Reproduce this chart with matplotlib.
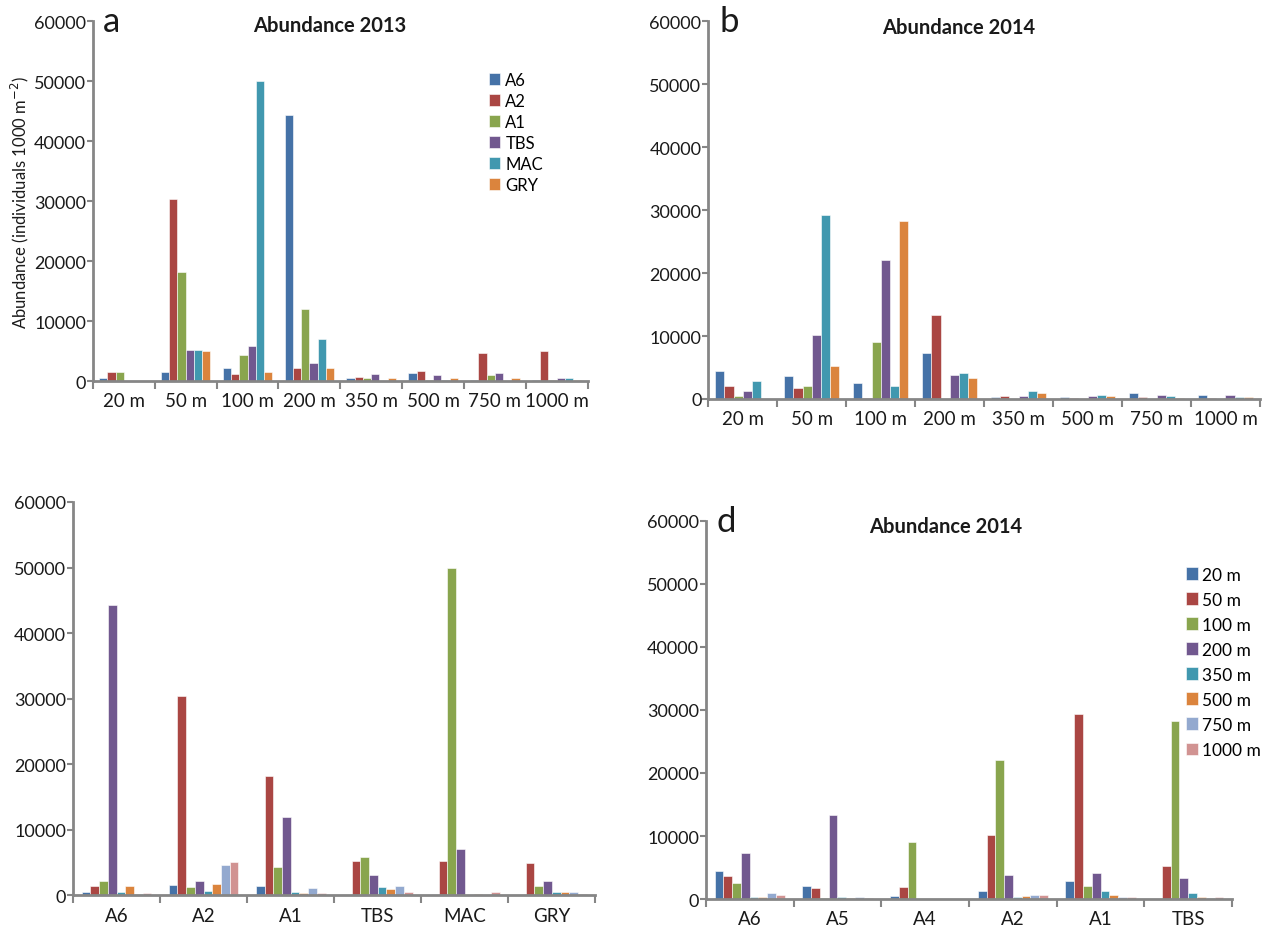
import numpy as np
import matplotlib
matplotlib.use('Agg')
import matplotlib.pyplot as plt

plt.rcParams['font.family'] = ['Lato', 'DejaVu Sans']

# ── Data ──────────────────────────────────────────────────────────────────────
depths = ['20 m', '50 m', '100 m', '200 m', '350 m', '500 m', '750 m', '1000 m']
sites_2013 = ['A6', 'A2', 'A1', 'TBS', 'MAC', 'GRY']
sites_2014 = ['A6', 'A5', 'A4', 'A2', 'A1', 'TBS']

# 2013 abundance per site, one value per depth
ab13_A6  = [500, 1500, 2200, 44300, 600, 1400, 200, 300]
ab13_A2  = [1600, 30400, 1300, 2200, 700, 1700, 4700, 5100]
ab13_A1  = [1500, 18200, 4400, 12000, 500, 300, 1100, 300]
ab13_TBS = [0, 5300, 5900, 3100, 1300, 1000, 1400, 500]
ab13_MAC = [0, 5300, 50000, 7100, 0, 200, 0, 500]
ab13_GRY = [0, 5000, 1500, 2200, 600, 600, 500, 200]

# 2014 abundance per site, one value per depth
ab14_A6  = [4500, 3700, 2500, 7300, 300, 300, 1000, 600]
ab14_A5  = [2100, 1700, 200, 13400, 400, 200, 300, 200]
ab14_A4  = [500, 2000, 9100, 0, 0, 0, 0, 0]
ab14_A2  = [1300, 10100, 22100, 3800, 400, 500, 600, 600]
ab14_A1  = [2800, 29300, 2100, 4200, 1300, 600, 400, 300]
ab14_TBS = [0, 5300, 28200, 3400, 1000, 400, 200, 300]

ab13 = np.array([ab13_A6, ab13_A2, ab13_A1, ab13_TBS, ab13_MAC, ab13_GRY])
ab14 = np.array([ab14_A6, ab14_A5, ab14_A4, ab14_A2, ab14_A1, ab14_TBS])

COLORS = ['#4572A7', '#AA4643', '#89A54E', '#71588F',
          '#4198AF', '#DB843D', '#93A9CF', '#D19392']
GREY = '#868686'
TXT = '#1a1a1a'


def grouped(ax, cats, series, labels):
    n = len(series)
    w = 0.8 / n
    x = np.arange(len(cats))
    for i, vals in enumerate(series):
        ax.bar(x - 0.4 + w * (i + 0.5), vals, w, color=COLORS[i],
               label=labels[i], edgecolor='white', linewidth=0.4)
    ax.set_xlim(-0.5, len(cats) - 0.5)
    ax.set_ylim(0, 60000)
    ax.set_yticks(range(0, 60001, 10000))
    ax.set_xticks(x)
    ax.set_xticklabels(cats)
    ax.set_xticks(np.arange(len(cats) + 1) - 0.5, minor=True)
    ax.tick_params(axis='x', which='major', length=0, pad=8,
                   labelsize=13.5, labelcolor=TXT)
    ax.tick_params(axis='x', which='minor', length=6, width=1.5, color=GREY)
    ax.tick_params(axis='y', length=4, width=1.5, color=GREY,
                   labelsize=13, labelcolor=TXT, pad=1)
    for s in ['top', 'right']:
        ax.spines[s].set_visible(False)
    for s in ['left', 'bottom']:
        ax.spines[s].set_color(GREY)
        ax.spines[s].set_linewidth(2)


fig = plt.figure(figsize=(12.65, 9.28), dpi=100)

ax_a = fig.add_axes([0.0735, 0.588, 0.391, 0.388])
ax_b = fig.add_axes([0.560, 0.569, 0.436, 0.407])
ax_c = fig.add_axes([0.0577, 0.034, 0.413, 0.424])
ax_d = fig.add_axes([0.558, 0.030, 0.416, 0.408])

# a: 2013 by depth
grouped(ax_a, depths, ab13, sites_2013)
ax_a.set_ylabel(r'Abundance (individuals 1000 m$^{-2}$)', fontsize=12,
                color=TXT, labelpad=2)
ax_a.text(0.02, 1.0, 'a', transform=ax_a.transAxes, fontsize=25,
          va='center', ha='left', color=TXT)
ax_a.text(0.478, 0.99, 'Abundance 2013', transform=ax_a.transAxes,
          fontsize=14.5, fontweight='bold', va='center', ha='center', color=TXT)
ax_a.legend(loc='upper left', bbox_to_anchor=(0.80, 0.86), frameon=False,
            fontsize=12, handlelength=0.7, handleheight=0.7,
            handletextpad=0.3, labelspacing=0.3, borderaxespad=0,
            borderpad=0)

# b: 2014 by depth
grouped(ax_b, depths, ab14, sites_2014)
ax_b.text(0.02, 1.0, 'b', transform=ax_b.transAxes, fontsize=25,
          va='center', ha='left', color=TXT)
ax_b.text(0.453, 0.985, 'Abundance 2014', transform=ax_b.transAxes,
          fontsize=14.5, fontweight='bold', va='center', ha='center', color=TXT)

# c: 2013 by site
grouped(ax_c, sites_2013, ab13.T, depths)

# d: 2014 by site
grouped(ax_d, sites_2014, ab14.T, depths)
ax_d.text(0.02, 1.0, 'd', transform=ax_d.transAxes, fontsize=25,
          va='center', ha='left', color=TXT)
ax_d.text(0.455, 0.985, 'Abundance 2014', transform=ax_d.transAxes,
          fontsize=14.5, fontweight='bold', va='center', ha='center', color=TXT)
ax_d.legend(loc='upper left', bbox_to_anchor=(0.913, 0.878), frameon=False,
            fontsize=12.5, handlelength=0.65, handleheight=0.75,
            handletextpad=0.25, labelspacing=0.52, borderaxespad=0,
            borderpad=0)

plt.savefig('out.png', dpi=100)
